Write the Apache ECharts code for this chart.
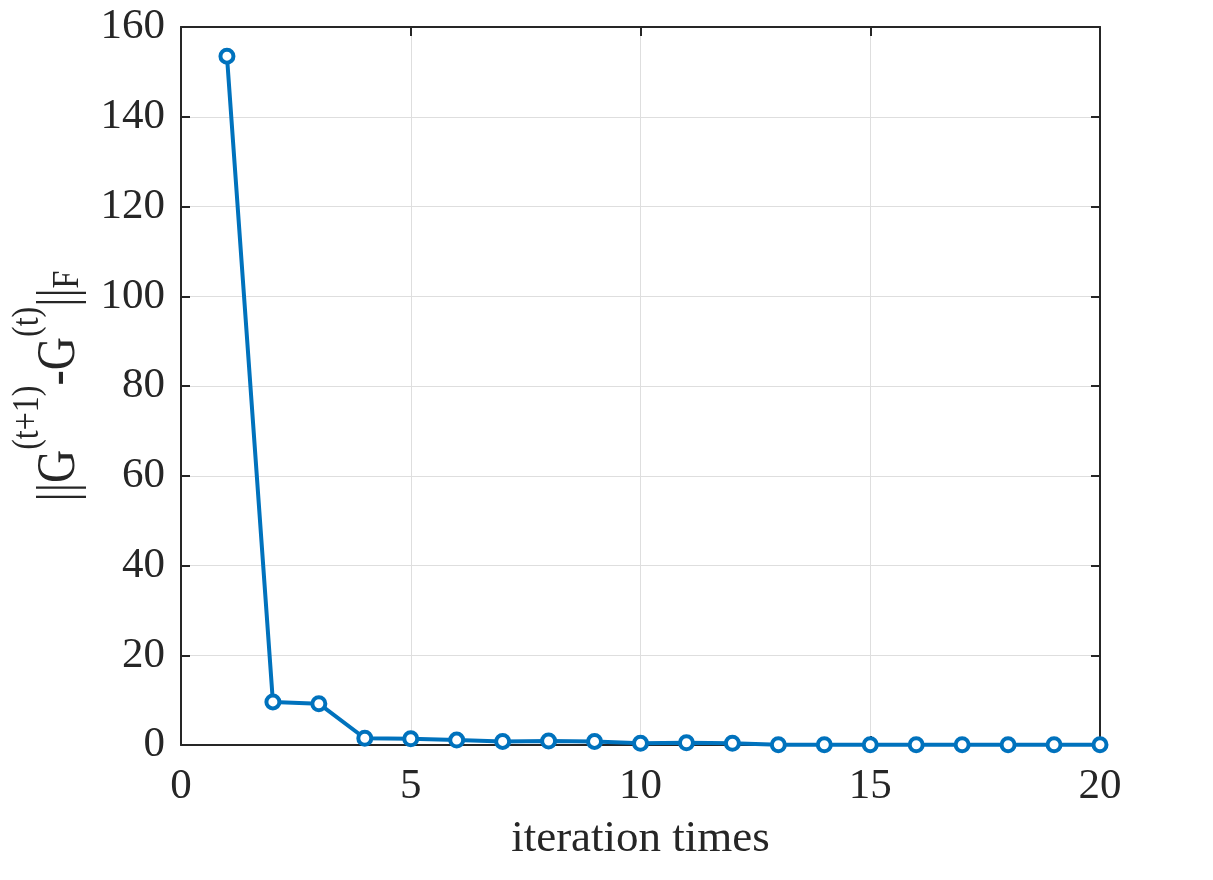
<!DOCTYPE html>
<html>
<head>
<meta charset="utf-8">
<script src="https://cdn.jsdelivr.net/npm/echarts@6/dist/echarts.min.js"></script>
<style>
    html, body { margin: 0; padding: 0; background: #fff; }
    #chart { width: 1213px; height: 880px; }
</style>
</head>
<body>
<div id="chart"></div>
<script>
// iterations and the Frobenius-norm change per iteration
var iterations = [1, 2, 3, 4, 5, 6, 7, 8, 9, 10, 11, 12, 13, 14, 15, 16, 17, 18, 19, 20];
var normDiff = [153.5, 9.6, 9.2, 1.5, 1.4, 1.1, 0.8, 0.9, 0.8, 0.4, 0.5, 0.4, 0.05, 0.05, 0.05, 0.05, 0.05, 0.05, 0.05, 0.05];
var xTicks = [0, 5, 10, 15, 20];
var yTicks = [0, 20, 40, 60, 80, 100, 120, 140, 160];

var blue = '#0072BD',
    ink  = '#262626',
    font = '"Liberation Serif", "DejaVu Serif", serif';

var chart = echarts.init(document.getElementById('chart'));

var points = iterations.map(function (it, i) { return [it, normDiff[i]]; });

// 坐标轴公共样式
function axis(pos, show, extra) {
    var isX = pos === 'bottom' || pos === 'top';
    var ticks = isX ? xTicks : yTicks;
    var a = {
        type: 'value',
        position: pos,
        min: ticks[0],
        max: ticks[ticks.length - 1],
        interval: ticks[1] - ticks[0],
        axisLine: {show: true, onZero: false, lineStyle: {color: ink, width: 2}},
        axisTick: {show: true, inside: true, length: 9, lineStyle: {color: ink, width: 2}},
        axisLabel: {show: show, color: ink, fontFamily: font, fontSize: 43, margin: isX ? 20 : 16},
        splitLine: {show: false}
    };
    for (var k in extra) a[k] = extra[k];
    return a;
}

var option = {
    backgroundColor: '#fff',
    animation: false,
    grid: {left: 181, right: 113, top: 27, bottom: 135},
    xAxis: [
        axis('bottom', true, {
            name: 'iteration times',
            nameLocation: 'middle',
            nameGap: 72,
            nameTextStyle: {color: ink, fontFamily: font, fontSize: 45},
            splitLine: {show: true, lineStyle: {color: '#dedede', width: 1}}
        }),
        axis('top', false, {})
    ],
    yAxis: [
        axis('left', true, {
            splitLine: {show: true, lineStyle: {color: '#dedede', width: 1}}
        }),
        axis('right', false, {})
    ],
    graphic: [{
        type: 'text',
        x: 48,
        y: 386,
        rotation: Math.PI / 2,
        scaleY: 1.2,
        style: {
            text: '{n|||G}{s|(t+1)}{n|-G}{s|(t)}{n|||}{b|F}',
            align: 'center',
            verticalAlign: 'middle',
            fill: ink,
            rich: {
                n: {fontFamily: font, fontSize: 46, lineHeight: 66, verticalAlign: 'bottom', fill: ink},
                s: {fontFamily: font, fontSize: 32, lineHeight: 34, verticalAlign: 'top', fill: ink},
                b: {fontFamily: font, fontSize: 32, lineHeight: 34, verticalAlign: 'bottom', fill: ink}
            }
        }
    }],
    series: [{
        type: 'line',
        data: points,
        symbol: 'circle',
        symbolSize: 13,
        showAllSymbol: true,
        lineStyle: {color: blue, width: 4},
        itemStyle: {color: '#fff', borderColor: blue, borderWidth: 4}
    }]
};

chart.setOption(option);
</script>
</body>
</html>
